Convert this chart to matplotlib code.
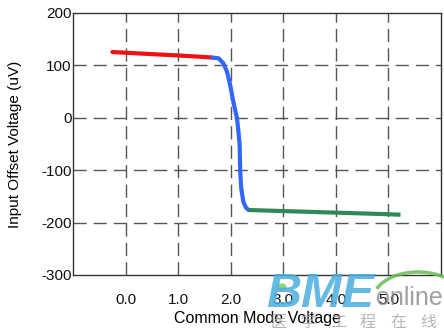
import numpy as np
from matplotlib import pyplot as plt
from matplotlib.patches import Arc, Circle

plt.rcParams['font.family'] = ['Liberation Sans', 'DejaVu Sans']
plt.rcParams['axes.unicode_minus'] = False

# Vos vs common mode voltage, three regions of the input stage
vcm_low = [-0.25, 0.5, 1.0, 1.5, 1.65]
vos_low = [125.5, 121.5, 119.0, 116.0, 115.0]

vcm_mid = [1.65, 1.77, 1.86, 1.93, 1.99, 2.05, 2.12, 2.15, 2.17, 2.18, 2.20, 2.24, 2.29, 2.34]
vos_mid = [115.0, 113.5, 104.0, 88.0, 62.5, 30.5, -1.0, -29.5, -52.0, -99.5, -134.5, -160.0, -171.5, -176.0]

vcm_high = [2.34, 3.0, 4.0, 5.0, 5.23]
vos_high = [-176.0, -178.0, -181.0, -184.0, -185.0]

xticks = [0, 1, 2, 3, 4, 5]
xticklabels = ['0.0', '1.0', '2.0', '3.0', '4.0', '5.0']
yticks = [-300, -200, -100, 0, 100, 200]

fig = plt.figure(figsize=(4.44, 3.32), dpi=100)
ax = fig.add_axes([73/444, 1 - 275/332, (441-73)/444, (275-13)/332])

for s in ax.spines.values():
    s.set_color('#333333')
    s.set_linewidth(1.0)

ax.set_xlim(-1, 6)
ax.set_ylim(-300, 200)
ax.set_xticks(xticks)
ax.set_xticklabels(xticklabels)
ax.set_yticks(yticks)
ax.tick_params(length=0, labelsize=11, colors='#111111')
ax.tick_params(axis='x', pad=13)
ax.tick_params(axis='y', pad=1)

for x in xticks:
    ax.axvline(x, color='#555555', lw=1.0, dashes=(9.5, 4.5), zorder=1)
for y in yticks[1:-1]:
    ax.axhline(y, color='#555555', lw=1.0, dashes=(9.5, 5), zorder=1)

ax.plot(vcm_low, vos_low, color='#ee1111', lw=3, solid_capstyle='round', zorder=3)
ax.plot(vcm_mid, vos_mid, color='#3366ff', lw=3, solid_capstyle='round',
        solid_joinstyle='round', zorder=3)
ax.plot(vcm_high, vos_high, color='#2e8b57', lw=3, solid_capstyle='butt', zorder=3)

ax.set_xlabel('Common Mode Voltage', fontsize=11.5, labelpad=3)
ax.set_ylabel('Input Offset Voltage (uV)', fontsize=11, labelpad=14)

# site watermark
fig.text(266/444, 1 - 307/332, 'BME', fontsize=35, fontweight='bold', style='italic',
         color='#4aaee0', alpha=0.85, va='baseline')
fig.add_artist(Circle((282/444, 1 - 287/332), 4/444, transform=fig.transFigure,
                      color='#8fd06a', alpha=0.9))
fig.text(376/444, 1 - 305/332, 'online', fontsize=18, color='#888888', alpha=0.8,
         va='baseline')
arc = Arc((418/444, 1 - 300/332), 90/444, 56/332, theta1=25, theta2=160,
          transform=fig.transFigure, color='#66bb55', lw=2.5, alpha=0.85)
fig.add_artist(arc)
for i, ch in enumerate('医学工程在线'):
    fig.text((278 + 30 * i)/444, 1 - 322/332, ch, fontsize=11.5, color='#aaaaaa',
             alpha=0.85, ha='center', va='center',
             family=['Noto Sans CJK SC', 'DejaVu Sans'])

plt.savefig('out.png', dpi=100)
